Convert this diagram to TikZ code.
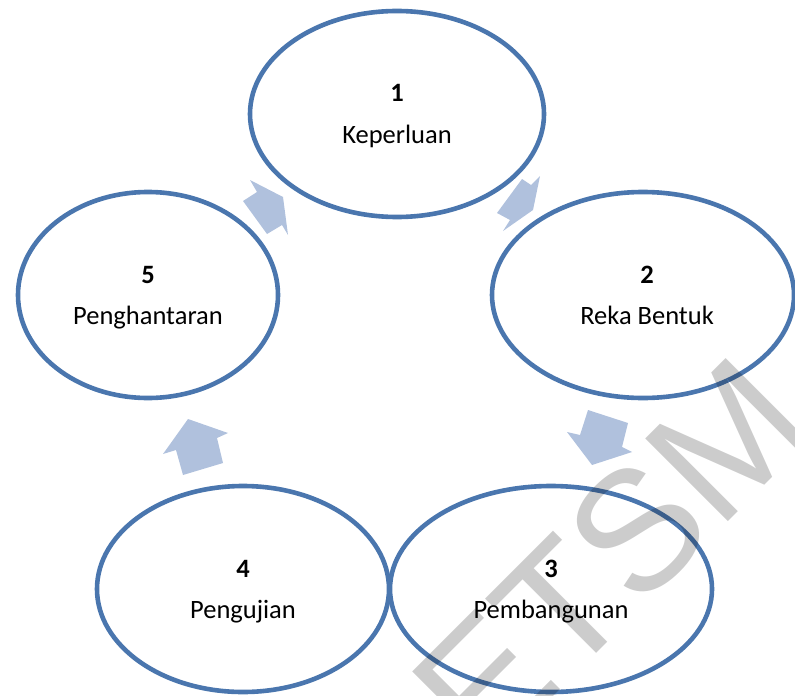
\documentclass[tikz,border=0pt]{standalone}
\usepackage{fontspec}
\setmainfont{Carlito}
\newfontfamily\markfont{Liberation Sans}
\usetikzlibrary{shapes.geometric}
\definecolor{ringblue}{RGB}{74,118,174}
\definecolor{arrowblue}{RGB}{176,193,221}
\begin{document}
\begin{tikzpicture}[x=0.5pt,y=-0.5pt,font=\fontsize{13.25}{16}\selectfont]
\tikzstyle{stage}=[ellipse,draw=ringblue,line width=2.3pt,fill=white,inner sep=0pt,outer sep=0pt,minimum height=103pt]
\tikzstyle{stagenum}=[anchor=base,font=\fontsize{13.25}{16}\selectfont\bfseries,yshift=6pt]
\tikzstyle{stagetext}=[anchor=base,yshift=-14.5pt]
\tikzstyle{flow}=[fill=arrowblue]
\useasboundingbox (0,0) rectangle (795,695);
\fill[flow] (250,180) -- (283,197) -- (288,235) -- (282,225) -- (267,234) -- (243,201) -- (257,192) -- cycle;
\fill[flow] (522,179) -- (531,185) -- (540,176) -- (533,210) -- (503,231) -- (510,220) -- (497,213) -- cycle;
\fill[flow] (588,410) -- (628,423) -- (622,447) -- (632,452) -- (592,465) -- (567,432) -- (580,435) -- cycle;
\fill[flow] (188,419) -- (228,433) -- (217,438) -- (223,463) -- (183,475) -- (176,450) -- (163,454) -- cycle;
\node[stage,minimum width=147pt] (s1) at (397,114) {};
\node[stage,minimum width=151pt] (s2) at (643,295) {};
\node[stage,minimum width=161pt] (s3) at (551,589) {};
\node[stage,minimum width=146pt] (s4) at (243,589) {};
\node[stage,minimum width=130pt] (s5) at (148,295) {};
\node[stagenum] (n1) at (s1.center) {1};
\node[stagetext] (t1) at (s1.center) {Keperluan};
\node[stagenum] (n2) at ([xshift=2pt]s2.center) {2};
\node[stagetext] (t2) at ([xshift=2pt]s2.center) {Reka Bentuk};
\node[stagenum] (n3) at (s3.center) {3};
\node[stagetext] (t3) at (s3.center) {Pembangunan};
\node[stagenum] (n4) at (s4.center) {4};
\node[stagetext] (t4) at (s4.center) {Pengujian};
\node[stagenum] (n5) at (s5.center) {5};
\node[stagetext] (t5) at (s5.center) {Penghantaran};
\node[rotate=45,anchor=base,inner sep=0pt,font=\markfont\fontsize{85}{85}\selectfont,text=black,text opacity=0.2] (mark) at (652,598) {ETSM};
\end{tikzpicture}
\end{document}
